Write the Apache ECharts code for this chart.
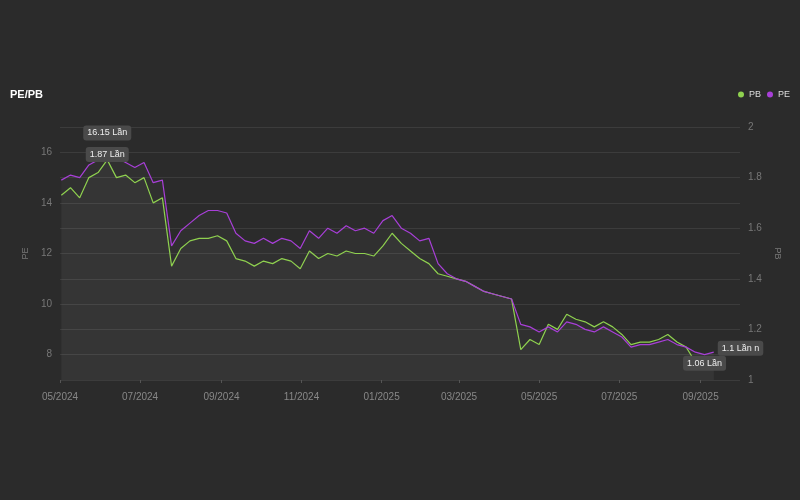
<!DOCTYPE html>
<html>
<head>
<meta charset="utf-8">
<script src="https://cdn.jsdelivr.net/npm/echarts@6/dist/echarts.min.js"></script>
<style>html,body{margin:0;background:#2b2b2b;}#main{width:800px;height:500px;}</style>
</head>
<body>
<div id="main"></div>
<script>
// dữ liệu theo tuần
var startDate = '2024-05-02';
var peValues = [14.9,15.1,15.0,15.5,15.7,16.15,15.8,15.6,15.4,15.6,14.8,14.9,12.3,12.9,13.2,13.5,13.7,13.7,13.6,12.8,
  12.5,12.4,12.6,12.4,12.6,12.5,12.2,12.9,12.6,13.0,12.8,13.1,12.9,13.0,12.8,13.3,13.5,13.0,12.8,12.5,
  12.6,11.6,11.2,11.0,10.9,10.7,10.5,10.4,10.3,10.2,9.2,9.1,8.9,9.1,8.9,9.3,9.2,9.0,8.9,9.1,
  8.9,8.7,8.3,8.4,8.4,8.5,8.6,8.4,8.3,8.1,8.0,8.1];
var pbValues = [1.73,1.76,1.72,1.80,1.82,1.87,1.80,1.81,1.78,1.80,1.70,1.72,1.45,1.52,1.55,1.56,1.56,1.57,1.55,1.48,
  1.47,1.45,1.47,1.46,1.48,1.47,1.44,1.51,1.48,1.50,1.49,1.51,1.50,1.50,1.49,1.53,1.58,1.54,1.51,1.48,
  1.46,1.42,1.41,1.40,1.39,1.37,1.35,1.34,1.33,1.32,1.12,1.16,1.14,1.22,1.20,1.26,1.24,1.23,1.21,1.23,
  1.21,1.18,1.14,1.15,1.15,1.16,1.18,1.15,1.13,1.07,1.06,1.08];

var dates = [];
var t0 = new Date(startDate + 'T00:00:00Z').getTime();
for (var i = 0; i < peValues.length; i++) {
  dates.push(t0 + i * 7 * 86400000);
}
var peData = [], pbData = [];
for (var i = 0; i < dates.length; i++) {
  peData.push([dates[i], peValues[i]]);
  pbData.push([dates[i], pbValues[i]]);
}

var tagLabel = {
  show: true, color: '#eee', fontSize: 9, backgroundColor: '#4a4a4a',
  borderRadius: 3, padding: [3, 4], position: 'top', distance: 2
};

var myChart = echarts.init(document.getElementById('main'));
var option = {
  backgroundColor: '#2b2b2b',
  title: { text: 'PE/PB', left: 5, top: 84, textStyle: { color: '#fff', fontSize: 11, fontWeight: 'bold' } },
  legend: {
    right: 5, top: 85, icon: 'circle', itemWidth: 6, itemHeight: 6, itemGap: 6,
    textStyle: { color: '#ddd', fontSize: 9 }, data: ['PB', 'PE']
  },
  grid: { left: 60, right: 60, top: 127, bottom: 120 },
  xAxis: {
    type: 'time',
    min: '2024-05-01', max: '2025-10-01',
    interval: 61 * 86400000,
    axisLine: { show: false },
    axisTick: { show: true, length: 3, lineStyle: { color: '#555' } },
    splitLine: { show: false },
    axisLabel: {
      color: '#888', fontSize: 10, margin: 12,
      formatter: function (v) {
        var d = new Date(v);
        var m = d.getMonth() + 1;
        return (m < 10 ? '0' : '') + m + '/' + d.getFullYear();
      }
    }
  },
  yAxis: [{
    type: 'value', name: 'PE', nameLocation: 'middle', nameGap: 30,
    nameTextStyle: { color: '#777', fontSize: 9 },
    min: 7, max: 17, interval: 1,
    axisLabel: { color: '#777', fontSize: 10, formatter: function (v) { return v % 2 === 0 ? v : ''; } },
    splitLine: { lineStyle: { color: ['transparent', '#3c3c3c'] } },
    axisLine: { show: false }, axisTick: { show: false }
  }, {
    type: 'value', name: 'PB', nameLocation: 'middle', nameGap: 28, nameRotate: -90,
    nameTextStyle: { color: '#777', fontSize: 9 },
    min: 1, max: 2, interval: 0.2,
    axisLabel: { color: '#777', fontSize: 10 },
    splitLine: { lineStyle: { color: '#3c3c3c' } },
    axisLine: { show: false }, axisTick: { show: false }
  }],
  series: [{
    name: 'PB', type: 'line', yAxisIndex: 1, data: pbData,
    showSymbol: false, color: '#8fd14f', lineStyle: { width: 1.2 },
    areaStyle: { color: 'rgba(255,255,255,0.04)' },
    markPoint: {
      symbolSize: 0,
      data: [
        { type: 'max', label: Object.assign({}, tagLabel, { formatter: '{c} Lần', offset: [0, 4] }) },
        { type: 'min', label: Object.assign({}, tagLabel, { formatter: '{c} Lần', offset: [0, 8] }) }
      ]
    }
  }, {
    name: 'PE', type: 'line', yAxisIndex: 0, data: peData,
    showSymbol: false, color: '#a83fd8', lineStyle: { width: 1.2 },
    areaStyle: { color: 'rgba(255,255,255,0.04)' },
    markPoint: {
      symbolSize: 0,
      data: [
        { type: 'max', label: Object.assign({}, tagLabel, { formatter: '{c} Lần', offset: [0, -6] }) },
        { coord: peData[peData.length - 1], label: Object.assign({}, tagLabel, { formatter: '1.1 Lần n', position: 'right', offset: [2, -4] }) }
      ]
    }
  }]
};
myChart.setOption(option);
</script>
</body>
</html>
